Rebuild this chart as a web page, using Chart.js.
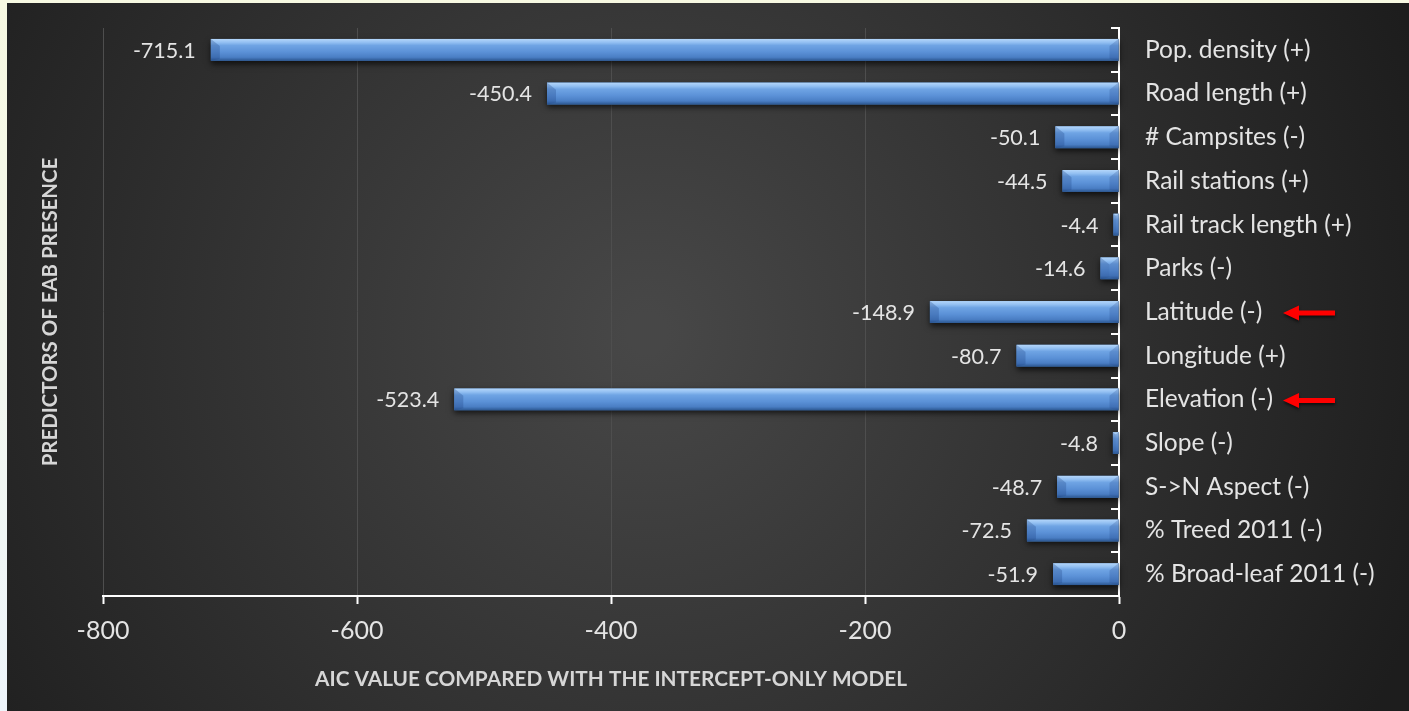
<!DOCTYPE html>
<html>
<head>
<meta charset="utf-8">
<title>AIC of EAB presence predictors</title>
<script src="https://cdn.jsdelivr.net/npm/chart.js@4.4.0/dist/chart.umd.min.js"></script>
<style>
  html, body { margin: 0; padding: 0; }
  body {
    width: 1409px; height: 711px; overflow: hidden;
    background: linear-gradient(to bottom, #f7f9e2, #eef5fb);
  }
  #wrap { position: absolute; left: 7px; top: 3px; width: 1402px; height: 708px; }
</style>
</head>
<body>
<div id="wrap"><canvas id="chart"></canvas></div>
<script>
const predictors = [
  'Pop. density (+)', 'Road length (+)', '# Campsites (-)', 'Rail stations (+)',
  'Rail track length (+)', 'Parks (-)', 'Latitude (-)', 'Longitude (+)',
  'Elevation (-)', 'Slope (-)', 'S->N Aspect (-)', '% Treed 2011 (-)',
  '% Broad-leaf 2011 (-)'
];
const aicValues = [-715.1, -450.4, -50.1, -44.5, -4.4, -14.6, -148.9, -80.7, -523.4, -4.8, -48.7, -72.5, -51.9];
const flagged = ['Latitude (-)', 'Elevation (-)'];
const xMin = -800, xMax = 0, xStep = 200;

const FONT = 'Lato, "Open Sans", sans-serif';
const TEXT = '#e4e4e4';

// dark radial backdrop behind everything
const backdrop = {
  id: 'backdrop',
  beforeDraw(chart) {
    const { ctx, width, height } = chart;
    const g = ctx.createRadialGradient(640, 330, 20, 640, 330, 820);
    g.addColorStop(0, '#474747');
    g.addColorStop(0.55, '#303030');
    g.addColorStop(1, '#1d1d1d');
    ctx.save();
    ctx.fillStyle = g;
    ctx.fillRect(0, 0, width, height);
    ctx.restore();
  }
};

// soft shadow under each bar, then bevelled blue shading on top of it
const bevelBars = {
  id: 'bevelBars',
  beforeDatasetsDraw(chart) {
    const { ctx } = chart;
    ctx.save();
    ctx.shadowColor = 'rgba(0,0,0,0.7)';
    ctx.shadowBlur = 6;
    ctx.shadowOffsetY = 3;
    ctx.fillStyle = '#1a1a1a';
    chart.getDatasetMeta(0).data.forEach(el => {
      const x0 = Math.min(el.x, el.base), x1 = Math.max(el.x, el.base);
      ctx.fillRect(x0, el.y - el.height / 2, x1 - x0, el.height);
    });
    ctx.restore();
  },
  afterDatasetsDraw(chart) {
    const { ctx } = chart;
    ctx.save();
    chart.getDatasetMeta(0).data.forEach(el => {
      const x0 = Math.min(el.x, el.base), x1 = Math.max(el.x, el.base);
      const y0 = el.y - el.height / 2, y1 = el.y + el.height / 2;
      const w = x1 - x0;
      const g = ctx.createLinearGradient(0, y0, 0, y1);
      g.addColorStop(0, '#b4d6fa');
      g.addColorStop(0.16, '#93c0f2');
      g.addColorStop(0.3, '#6fa4e4');
      g.addColorStop(0.6, '#5b91d7');
      g.addColorStop(0.84, '#4a7ec4');
      g.addColorStop(1, '#2b5690');
      ctx.fillStyle = g;
      ctx.fillRect(x0, y0, w, y1 - y0);

      const b = Math.min(9, w / 2);
      // left end facet
      ctx.fillStyle = 'rgba(30,65,130,0.28)';
      ctx.beginPath();
      ctx.moveTo(x0, y0);
      ctx.lineTo(x0 + b, y0 + b * 0.8);
      ctx.lineTo(x0 + b, y1 - 2);
      ctx.lineTo(x0, y1);
      ctx.closePath();
      ctx.fill();
      // right end facet
      ctx.fillStyle = 'rgba(30,65,130,0.22)';
      ctx.beginPath();
      ctx.moveTo(x1, y0);
      ctx.lineTo(x1 - b, y0 + b * 0.8);
      ctx.lineTo(x1 - b, y1 - 2);
      ctx.lineTo(x1, y1);
      ctx.closePath();
      ctx.fill();
    });
    ctx.restore();
  }
};

// value labels to the left of each bar
const valueLabels = {
  id: 'valueLabels',
  afterDatasetsDraw(chart) {
    const { ctx } = chart;
    ctx.save();
    ctx.font = '21.5px ' + FONT;
    ctx.fillStyle = TEXT;
    ctx.textAlign = 'right';
    ctx.textBaseline = 'middle';
    chart.getDatasetMeta(0).data.forEach((el, i) => {
      ctx.fillText(aicValues[i].toFixed(1), Math.min(el.x, el.base) - 15, el.y + 1);
    });
    ctx.restore();
  }
};

// inward tick marks on the category axis, rotated axis title, red arrows
const extras = {
  id: 'extras',
  afterDraw(chart) {
    const { ctx, chartArea } = chart;
    const y = chart.scales.y;
    ctx.save();
    ctx.strokeStyle = '#ffffff';
    ctx.lineWidth = 2;
    for (let i = 0; i <= predictors.length; i++) {
      let py;
      if (i === 0) py = chartArea.top;
      else if (i === predictors.length) py = chartArea.bottom;
      else py = (y.getPixelForValue(i - 1) + y.getPixelForValue(i)) / 2;
      py = Math.round(py);
      ctx.beginPath();
      ctx.moveTo(chartArea.right - 8, py);
      ctx.lineTo(chartArea.right, py);
      ctx.stroke();
    }

    ctx.translate(43, (chartArea.top + chartArea.bottom) / 2);
    ctx.rotate(-Math.PI / 2);
    ctx.font = 'bold 20.4px ' + FONT;
    ctx.fillStyle = '#d6d6d6';
    ctx.textAlign = 'center';
    ctx.textBaseline = 'middle';
    ctx.fillText('PREDICTORS OF EAB PRESENCE', 0, 0);
    ctx.restore();

    ctx.save();
    ctx.fillStyle = '#ff0000';
    ctx.shadowColor = 'rgba(0,0,0,0.6)';
    ctx.shadowBlur = 3;
    ctx.shadowOffsetY = 2;
    flagged.forEach(name => {
      const py = y.getPixelForValue(predictors.indexOf(name)) + 1;
      const tip = chartArea.right + 164, tail = chartArea.right + 216;
      ctx.beginPath();
      ctx.moveTo(tip, py);
      ctx.lineTo(tip + 16, py - 7.5);
      ctx.lineTo(tip + 16, py - 2.5);
      ctx.lineTo(tail, py - 2.5);
      ctx.lineTo(tail, py + 2.5);
      ctx.lineTo(tip + 16, py + 2.5);
      ctx.lineTo(tip + 16, py + 7.5);
      ctx.closePath();
      ctx.fill();
    });
    ctx.restore();
  }
};

new Chart(document.getElementById('chart'), {
  type: 'bar',
  data: {
    labels: predictors,
    datasets: [{
      data: aicValues,
      backgroundColor: '#4f81bd',
      borderWidth: 0,
      barPercentage: 0.5,
      categoryPercentage: 1.0
    }]
  },
  options: {
    indexAxis: 'y',
    responsive: true,
    maintainAspectRatio: false,
    animation: false,
    layout: { padding: { left: 96, top: 25, right: 0, bottom: 0 } },
    plugins: { legend: { display: false }, tooltip: { enabled: false } },
    scales: {
      x: {
        min: xMin,
        max: xMax,
        afterFit(scale) { scale.height = 115; },
        ticks: { stepSize: xStep, color: TEXT, font: { family: FONT, size: 25 }, padding: 12 },
        grid: { color: '#4e4e4e', lineWidth: 1, tickColor: '#ffffff', tickWidth: 2, tickLength: 8 },
        border: { color: '#ffffff', width: 2 },
        title: {
          display: true,
          text: 'AIC VALUE COMPARED WITH THE INTERCEPT-ONLY MODEL',
          color: '#d6d6d6',
          font: { family: FONT, size: 20.8, weight: 'bold' },
          padding: { top: 0, bottom: 19 }
        }
      },
      y: {
        position: 'right',
        afterFit(scale) {
          scale.width = 290;
          // bands are offset, so the labels need no extra room above/below
          scale.paddingTop = 0;
          scale.paddingBottom = 0;
        },
        ticks: { color: TEXT, font: { family: FONT, size: 24.5 }, padding: 26 },
        grid: { display: false, drawTicks: false },
        border: { color: '#ffffff', width: 2 }
      }
    }
  },
  plugins: [backdrop, bevelBars, valueLabels, extras]
});
</script>
</body>
</html>
